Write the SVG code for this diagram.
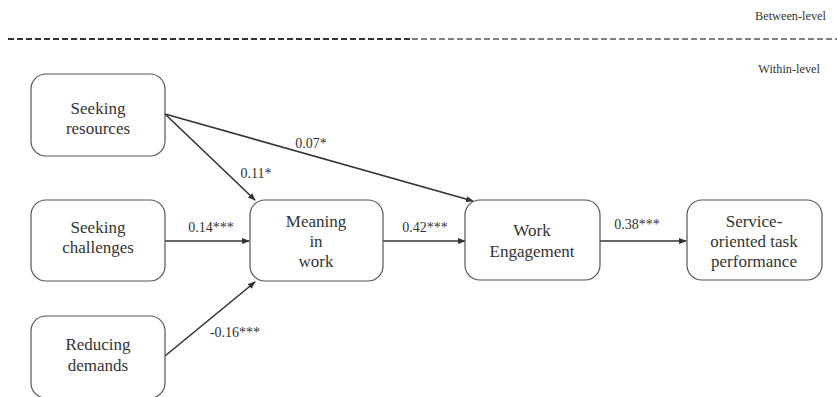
<svg xmlns="http://www.w3.org/2000/svg" width="837" height="397" viewBox="0 0 837 397">
<defs>
<marker id="ah" markerWidth="8" markerHeight="6" refX="7" refY="3" orient="auto" markerUnits="userSpaceOnUse">
<path d="M0,0 L8,3 L0,6 z" fill="#333"/>
</marker>
</defs>
<style>
.box{fill:#fff;stroke:#555;stroke-width:1.2}
text{font-family:'Liberation Serif','Times New Roman',serif;fill:#333}
.t{font-size:17px;text-anchor:middle}
.l{font-size:14px;text-anchor:middle}
.lv{font-size:12.3px;text-anchor:end}
.c{stroke:#333;stroke-width:1.6;fill:none;marker-end:url(#ah)}
</style>
<rect width="837" height="397" fill="#fff"/>
<text class="lv" x="826" y="20">Between-level</text>
<line x1="8" y1="39" x2="412" y2="39" stroke="#333" stroke-width="2" stroke-dasharray="6,3"/>
<line x1="412" y1="39" x2="837" y2="39" stroke="#555" stroke-width="1.6" stroke-dasharray="6,3"/>
<text class="lv" x="820" y="73">Within-level</text>

<g id="connectors">
<line class="c" x1="165" y1="114" x2="255" y2="200"/>
<line class="c" x1="165" y1="114" x2="473" y2="201"/>
<line class="c" x1="165" y1="241" x2="249" y2="241"/>
<line class="c" x1="165" y1="356" x2="255" y2="282"/>
<line class="c" x1="383" y1="241" x2="465" y2="241"/>
<line class="c" x1="600" y1="241" x2="686" y2="241"/>
<text class="l" x="311" y="148">0.07*</text>
<text class="l" x="256" y="178">0.11*</text>
<text class="l" x="211" y="232">0.14***</text>
<text class="l" x="235" y="337">-0.16***</text>
<text class="l" x="425" y="232">0.42***</text>
<text class="l" x="637" y="229">0.38***</text>
</g>

<g id="seeking-resources">
<rect class="box" x="31" y="74" width="134" height="82" rx="15"/>
<text class="t" x="98" y="114">Seeking</text>
<text class="t" x="98" y="134">resources</text>
</g>
<g id="seeking-challenges">
<rect class="box" x="31" y="200" width="134" height="81" rx="15"/>
<text class="t" x="98" y="233">Seeking</text>
<text class="t" x="98" y="253">challenges</text>
</g>
<g id="reducing-demands">
<rect class="box" x="31" y="316" width="134" height="82" rx="15"/>
<text class="t" x="98" y="350">Reducing</text>
<text class="t" x="98" y="371">demands</text>
</g>
<g id="meaning-in-work">
<rect class="box" x="250" y="200" width="133" height="81" rx="15"/>
<text class="t" x="316" y="227">Meaning</text>
<text class="t" x="316" y="247">in</text>
<text class="t" x="316" y="267">work</text>
</g>
<g id="work-engagement">
<rect class="box" x="465" y="200" width="135" height="80" rx="15"/>
<text class="t" x="532" y="236">Work</text>
<text class="t" x="532" y="257">Engagement</text>
</g>
<g id="service-performance">
<rect class="box" x="687" y="200" width="135" height="80" rx="15"/>
<text class="t" x="754" y="227">Service-</text>
<text class="t" x="754" y="247">oriented task</text>
<text class="t" x="754" y="267">performance</text>
</g>
</svg>
